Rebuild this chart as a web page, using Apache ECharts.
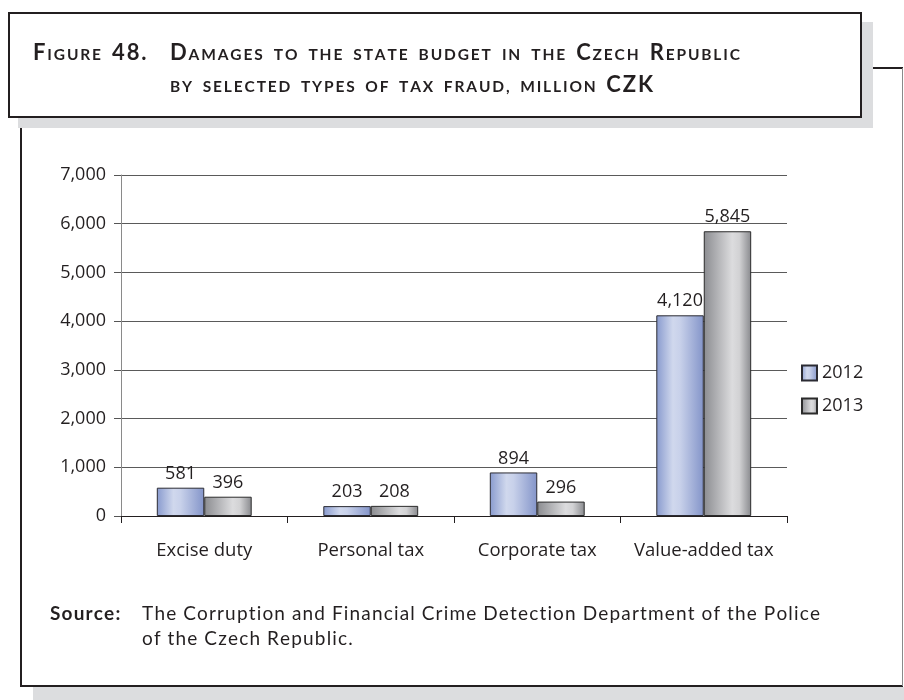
<!DOCTYPE html>
<html>
<head>
<meta charset="utf-8">
<script src="https://cdn.jsdelivr.net/npm/echarts@6/dist/echarts.min.js"></script>
<style>
  html, body { margin: 0; padding: 0; background: #ffffff; }
  #chart { width: 904px; height: 700px; }
</style>
</head>
<body>
<div id="chart"></div>
<script>
// ---- data ----
const categories = ['Excise duty', 'Personal tax', 'Corporate tax', 'Value-added tax'];
const seriesNames = ['2012', '2013'];
const values2012 = [581, 203, 894, 4120];
const values2013 = [396, 208, 296, 5845];
const yTickValues = [0, 1000, 2000, 3000, 4000, 5000, 6000, 7000];

// ---- texts ----
const titleLead = 'Figure 48.';
const titleLine1 = 'Damages to the state budget in the Czech Republic';
const titleLine2 = 'by selected types of tax fraud, million CZK';
const sourceLabel = 'Source:';
const sourceLines = [
  'The Corruption and Financial Crime Detection Department of the Police',
  'of the Czech Republic.'
];

// ---- styling ----
const INK = '#231f20';
const CHART_FONT = '"Open Sans", sans-serif';
const TEXT_FAMILY = 'Lato, "Open Sans", sans-serif';
const SHADOW = '#dcdddf';

const fmt = v => Number(v).toLocaleString('en-US');

// text measuring on an off-screen canvas
const measureCtx = document.createElement('canvas').getContext('2d');
function textWidth(str, font) {
  measureCtx.font = font;
  return measureCtx.measureText(str).width;
}

// a word becomes a list of glyphs, each with its own font
// small caps: capitals/digits at full size, lowercase drawn as smaller capitals
function smallCapsGlyphs(word, big, small, weight) {
  const out = [];
  let prevBig = true;
  for (const ch of word) {
    let isBig;
    if (/[A-Z0-9]/.test(ch)) isBig = true;
    else if (/[a-z]/.test(ch)) isBig = false;
    else isBig = prevBig;
    const size = isBig ? big : small;
    out.push({ ch: isBig ? ch : ch.toUpperCase(), size, font: `${weight} ${size}px ${TEXT_FAMILY}` });
    prevBig = isBig;
  }
  return out;
}
function plainGlyphs(word, size, weight) {
  return Array.from(word).map(ch => ({ ch, size, font: `${weight} ${size}px ${TEXT_FAMILY}` }));
}

function glyphsWidth(glyphs, tracking) {
  return glyphs.reduce((s, g) => s + textWidth(g.ch, g.font), 0) + tracking * (glyphs.length - 1);
}

// letter-spacing that leaves word gaps of `gap` when the words fill [x0, x1]
function trackingFor(words, x0, x1, gap) {
  const natural = words.reduce((s, w) => s + glyphsWidth(w, 0), 0);
  const slots = words.reduce((s, w) => s + w.length - 1, 0);
  return (x1 - x0 - natural - gap * (words.length - 1)) / slots;
}

// place words (lists of glyphs) on a baseline; gap null => justify to x1
function placeLine(words, x0, baseline, tracking, gap, x1, out) {
  const widths = words.map(w => glyphsWidth(w, tracking));
  const total = widths.reduce((a, b) => a + b, 0);
  const g = gap != null ? gap : (x1 - x0 - total) / Math.max(1, words.length - 1);
  let x = x0;
  words.forEach((w, i) => {
    let cx = x;
    w.forEach(gl => {
      out.push({
        type: 'text', z: 10, silent: true,
        style: {
          text: gl.ch, x: cx, y: baseline - gl.size * 0.36,
          font: gl.font, fill: INK, textAlign: 'left', textVerticalAlign: 'middle'
        }
      });
      cx += textWidth(gl.ch, gl.font) + tracking;
    });
    x += widths[i] + g;
  });
  return x - g;
}

const graphics = [
  // outer panel frame
  { type: 'line', z: 1, shape: { x1: 21, y1: 68, x2: 903, y2: 68 }, style: { stroke: INK, lineWidth: 2 } },
  { type: 'line', z: 1, shape: { x1: 21, y1: 68, x2: 21, y2: 687 }, style: { stroke: INK, lineWidth: 2 } },
  { type: 'line', z: 1, shape: { x1: 20, y1: 686, x2: 903, y2: 686 }, style: { stroke: INK, lineWidth: 2 } },
  { type: 'line', z: 1, shape: { x1: 902.5, y1: 68, x2: 902.5, y2: 686 }, style: { stroke: '#8a8a8a', lineWidth: 1 } },
  { type: 'rect', z: 1, shape: { x: 33, y: 687, width: 871, height: 13 }, style: { fill: SHADOW } },
  // title box with its drop shadow
  { type: 'rect', z: 2, shape: { x: 18, y: 22, width: 855, height: 106 }, style: { fill: SHADOW } },
  { type: 'rect', z: 3, shape: { x: 9, y: 13, width: 852, height: 104 }, style: { fill: '#ffffff', stroke: INK, lineWidth: 2 } }
];

// ---- title (small caps, letter-spaced) ----
const BIG = 22, SMALL = 15.5, TITLE_W = 'bold';
const capWords = s => s.split(' ').map(w => smallCapsGlyphs(w, BIG, SMALL, TITLE_W));
const line1Words = capWords(titleLine1);
const titleTracking = trackingFor(line1Words, 170, 740, 11);
placeLine(capWords(titleLead), 33, 61, titleTracking, 11, null, graphics);
placeLine(line1Words, 170, 61, titleTracking, null, 740, graphics);
placeLine(capWords(titleLine2), 170, 93, titleTracking, null, 653, graphics);

// ---- source note ----
const SRC = 19;
const srcWords = s => s.split(' ').map(w => plainGlyphs(w, SRC, 400));
const src1 = srcWords(sourceLines[0]);
const srcTracking = trackingFor(src1, 142, 820, 7);
placeLine([plainGlyphs(sourceLabel, SRC, 'bold')], 50, 621, srcTracking, 0, null, graphics);
placeLine(src1, 142, 621, srcTracking, null, 820, graphics);
placeLine(srcWords(sourceLines[1]), 142, 646, srcTracking, 7, null, graphics);

// ---- bar fills ----
const blueFill = new echarts.graphic.LinearGradient(0, 0, 1, 0, [
  { offset: 0, color: '#889ace' },
  { offset: 0.35, color: '#d0d8ed' },
  { offset: 0.5, color: '#c8d1ea' },
  { offset: 1, color: '#8394c9' }
]);
const grayFill = new echarts.graphic.LinearGradient(0, 0, 1, 0, [
  { offset: 0, color: '#8b8c90' },
  { offset: 0.6, color: '#dcdcde' },
  { offset: 0.75, color: '#d2d2d4' },
  { offset: 1, color: '#88898d' }
]);

const labelStyle = {
  show: true, position: 'top', distance: 5,
  fontFamily: CHART_FONT, fontSize: 18, color: INK,
  formatter: p => fmt(p.value)
};

const option = {
  animation: false,
  backgroundColor: '#ffffff',
  textStyle: { fontFamily: CHART_FONT },
  graphic: graphics,
  grid: { left: 121, right: 117, top: 175, bottom: 184, containLabel: false },
  legend: {
    data: seriesNames,
    orient: 'vertical',
    left: 796, top: 359,
    itemWidth: 15, itemHeight: 15, itemGap: 15, itemTextGap: 5,
    icon: 'rect',
    textStyle: { fontFamily: CHART_FONT, fontSize: 18, color: INK }
  },
  xAxis: {
    type: 'category',
    data: categories,
    boundaryGap: true,
    axisLine: { show: true, lineStyle: { color: INK, width: 1 } },
    axisTick: { show: true, length: 7, lineStyle: { color: INK } },
    axisLabel: { interval: 0, margin: 25, fontFamily: CHART_FONT, fontSize: 18.5, color: INK },
    splitLine: { show: false }
  },
  yAxis: {
    type: 'value',
    min: yTickValues[0],
    max: yTickValues[yTickValues.length - 1],
    interval: yTickValues[1] - yTickValues[0],
    axisLine: { show: true, lineStyle: { color: '#8a8a8a', width: 1 } },
    axisTick: { show: true, length: 7, lineStyle: { color: '#555555' } },
    axisLabel: { margin: 15, fontFamily: CHART_FONT, fontSize: 18, color: INK, formatter: v => fmt(v) },
    splitLine: { show: true, lineStyle: { color: '#5a5a5a', width: 1 } }
  },
  series: [
    {
      name: seriesNames[0], type: 'bar', data: values2012,
      barGap: '0%', barCategoryGap: '43%',
      itemStyle: { color: blueFill, borderColor: '#2b2b33', borderWidth: 1 },
      label: labelStyle
    },
    {
      name: seriesNames[1], type: 'bar', data: values2013,
      barGap: '0%', barCategoryGap: '43%',
      itemStyle: { color: grayFill, borderColor: '#2b2b2b', borderWidth: 1 },
      label: labelStyle
    }
  ]
};

const chart = echarts.init(document.getElementById('chart'), null, { renderer: 'canvas' });
chart.setOption(option);
</script>
</body>
</html>
